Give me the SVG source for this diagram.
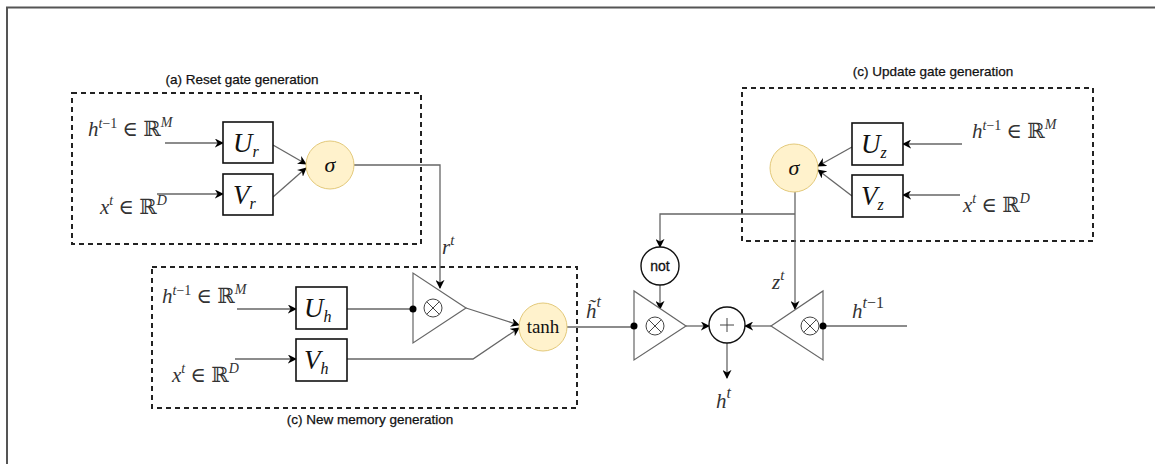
<svg xmlns="http://www.w3.org/2000/svg" width="1155" height="464" viewBox="0 0 1155 464">
<style>
.frame{fill:none;stroke:#555;stroke-width:2}
.dash{fill:none;stroke:#222;stroke-width:2;stroke-dasharray:5 4}
.box{fill:#fff;stroke:#111;stroke-width:1.6}
.act{fill:#fff2cc;stroke:#e3c97a;stroke-width:1}
.op{fill:#fff;stroke:#111;stroke-width:1.4}
.tri{fill:#fff;stroke:#666;stroke-width:1.2}
.ox{fill:none;stroke:#444;stroke-width:1}
.ln{fill:none;stroke:#666;stroke-width:1.3}
.arr{marker-end:url(#ah)}
.dot{fill:#000}
.title{font-family:"Liberation Sans",Arial,sans-serif;font-size:13.5px;fill:#111;stroke:#111;stroke-width:0.25;text-anchor:middle}
.math{font-family:"Liberation Serif","DejaVu Serif",serif;font-size:21px;fill:#333}
.mi{font-style:italic}
.big{font-family:"Liberation Serif","DejaVu Serif",serif;font-size:27px;font-style:italic;fill:#111}
.sym{font-family:"Liberation Serif","DejaVu Serif",serif;fill:#111;text-anchor:middle}
.not{font-family:"Liberation Sans",Arial,sans-serif;font-size:14px;fill:#111;stroke:#111;stroke-width:0.3;text-anchor:middle}
</style>
<defs>
<marker id="ah" viewBox="0 0 10 10" refX="9" refY="5" markerWidth="9" markerHeight="9" markerUnits="userSpaceOnUse" orient="auto">
<path d="M0,0 L10,5 L0,10 L3,5 z" fill="#000"/>
</marker>
</defs>
<rect width="1155" height="464" fill="#fff"/>
<path class="frame" d="M7,464 V7.5 H1155"/>

<g id="reset-gate-group">
<rect class="dash" x="72" y="93" width="349" height="151"/>
<text class="title" x="242" y="84">(a) Reset gate generation</text>
</g>
<g id="new-memory-group">
<rect class="dash" x="152" y="267" width="425" height="141"/>
<text class="title" x="370" y="424">(c) New memory generation</text>
</g>
<g id="update-gate-group">
<rect class="dash" x="742" y="88" width="351" height="153"/>
<text class="title" x="933" y="76">(c) Update gate generation</text>
</g>

<g id="labels">
<text class="math" x="88" y="136"><tspan class="mi">h</tspan><tspan class="mi" font-size="14" dy="-8">t</tspan><tspan font-size="14">−1</tspan><tspan dy="8"> ∈ ℝ</tspan><tspan class="mi" font-size="14" dy="-9">M</tspan></text>
<text class="math" x="100" y="214"><tspan class="mi">x</tspan><tspan class="mi" font-size="14" dy="-9">t</tspan><tspan dy="9"> ∈ ℝ</tspan><tspan class="mi" font-size="14" dy="-9">D</tspan></text>
<text class="math" x="162" y="303"><tspan class="mi">h</tspan><tspan class="mi" font-size="14" dy="-8">t</tspan><tspan font-size="14">−1</tspan><tspan dy="8"> ∈ ℝ</tspan><tspan class="mi" font-size="14" dy="-9">M</tspan></text>
<text class="math" x="172" y="382"><tspan class="mi">x</tspan><tspan class="mi" font-size="14" dy="-9">t</tspan><tspan dy="9"> ∈ ℝ</tspan><tspan class="mi" font-size="14" dy="-9">D</tspan></text>
<text class="math" x="972" y="138"><tspan class="mi">h</tspan><tspan class="mi" font-size="14" dy="-8">t</tspan><tspan font-size="14">−1</tspan><tspan dy="8"> ∈ ℝ</tspan><tspan class="mi" font-size="14" dy="-9">M</tspan></text>
<text class="math" x="963" y="212"><tspan class="mi">x</tspan><tspan class="mi" font-size="14" dy="-9">t</tspan><tspan dy="9"> ∈ ℝ</tspan><tspan class="mi" font-size="14" dy="-9">D</tspan></text>
<text class="math" x="442" y="254" font-size="23"><tspan class="mi">r</tspan><tspan class="mi" font-size="15" dy="-9">t</tspan></text>
<text class="math" x="772" y="289" font-size="23"><tspan class="mi">z</tspan><tspan class="mi" font-size="15" dy="-9">t</tspan></text>
<text class="math" x="586" y="318" font-size="25"><tspan class="mi">h̃</tspan><tspan class="mi" font-size="16" dy="-11">t</tspan></text>
<text class="math" x="852" y="318" font-size="25"><tspan class="mi">h</tspan><tspan class="mi" font-size="16" dy="-10">t</tspan><tspan font-size="16">−1</tspan></text>
<text class="math" x="716" y="408" font-size="25"><tspan class="mi">h</tspan><tspan class="mi" font-size="16" dy="-10">t</tspan></text>
</g>

<g id="connectors">
<path class="ln arr" d="M165,143 H223"/>
<path class="ln arr" d="M157,194 H223"/>
<path class="ln arr" d="M273,145 L306,164"/>
<path class="ln arr" d="M273,197 L306,168"/>
<path class="ln arr" d="M354,165 H440 V288"/>
<path class="ln arr" d="M237,309 H296"/>
<path class="ln arr" d="M235,359 H296"/>
<path class="ln" d="M347,309 H413"/>
<path class="ln arr" d="M466,308 L519,325"/>
<path class="ln arr" d="M347,359 H473 L519,328"/>
<path class="ln" d="M567,327 H634"/>
<path class="ln arr" d="M686,326 H709"/>
<path class="ln arr" d="M727,343 V378"/>
<path class="ln" d="M907,326 H823"/>
<path class="ln arr" d="M771,326 H745"/>
<path class="ln arr" d="M795,192 V309"/>
<path class="ln arr" d="M795,214 H660 V247"/>
<path class="ln arr" d="M660,285 V309"/>
<path class="ln arr" d="M962,144 H903"/>
<path class="ln arr" d="M960,195 H903"/>
<path class="ln arr" d="M852,147 L818,166"/>
<path class="ln arr" d="M852,196 L818,170"/>
</g>

<g id="Ur"><rect class="box" x="223" y="122" width="50" height="41"/><text class="big" x="233" y="152">U<tspan font-size="16" dy="5">r</tspan></text></g>
<g id="Vr"><rect class="box" x="223" y="174" width="50" height="41"/><text class="big" x="233" y="204">V<tspan font-size="16" dy="5">r</tspan></text></g>
<g id="sigma-r"><circle class="act" cx="330" cy="165" r="24"/><text class="sym" x="330" y="172" font-size="22" font-style="italic">σ</text></g>

<g id="Uh"><rect class="box" x="296" y="287" width="51" height="42"/><text class="big" x="304" y="317">U<tspan font-size="16" dy="5">h</tspan></text></g>
<g id="Vh"><rect class="box" x="296" y="339" width="51" height="42"/><text class="big" x="304" y="369">V<tspan font-size="16" dy="5">h</tspan></text></g>
<g id="mult-r"><path class="tri" d="M413,273 L413,343 L466,308 Z"/><circle class="ox" cx="433" cy="308" r="9"/><path class="ox" d="M426.6,301.6 L439.4,314.4 M439.4,301.6 L426.6,314.4"/><circle class="dot" cx="413" cy="309" r="3.5"/></g>
<g id="tanh"><circle class="act" cx="543" cy="327" r="24"/><text class="sym" x="543" y="333" font-size="19">tanh</text></g>

<g id="mult-left"><path class="tri" d="M634,291 L634,360 L686,326 Z"/><circle class="ox" cx="655" cy="326" r="9"/><path class="ox" d="M648.6,319.6 L661.4,332.4 M661.4,319.6 L648.6,332.4"/><circle class="dot" cx="634" cy="326" r="3.5"/></g>
<g id="not"><circle class="op" cx="660" cy="266" r="19"/><text class="not" x="660" y="271">not</text></g>
<g id="plus"><circle class="op" cx="727" cy="325" r="18"/><path class="ox" d="M720,325 H734 M727,318 V332"/></g>
<g id="mult-right"><path class="tri" d="M823,291 L823,360 L771,326 Z"/><circle class="ox" cx="810" cy="326" r="9"/><path class="ox" d="M803.6,319.6 L816.4,332.4 M816.4,319.6 L803.6,332.4"/><circle class="dot" cx="823" cy="326" r="3.5"/></g>

<g id="Uz"><rect class="box" x="852" y="123" width="51" height="42"/><text class="big" x="861" y="153">U<tspan font-size="16" dy="5">z</tspan></text></g>
<g id="Vz"><rect class="box" x="852" y="175" width="51" height="42"/><text class="big" x="861" y="205">V<tspan font-size="16" dy="5">z</tspan></text></g>
<g id="sigma-z"><circle class="act" cx="794" cy="168" r="24"/><text class="sym" x="794" y="175" font-size="22" font-style="italic">σ</text></g>
</svg>
